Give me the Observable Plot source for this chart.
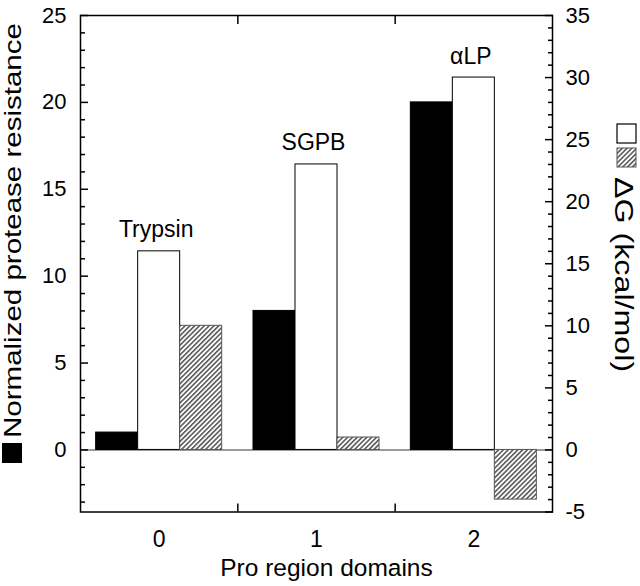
<!DOCTYPE html>
<html><head><meta charset="utf-8">
<script src="https://cdn.jsdelivr.net/npm/d3@7"></script>
<script src="https://cdn.jsdelivr.net/npm/@observablehq/plot@0.6"></script>
<style>
body{margin:0;background:#fff;}
#chart svg{display:block;}
</style>
</head><body><div id="chart"></div>
<script>
// ---- data ----
const groups = ["0", "1", "2"];
const enzymes = ["Trypsin", "SGPB", "αLP"];
const resistance = [1, 8, 20];      // normalized protease resistance (left axis, black)
const dGopen = [16, 23, 30];        // ΔG kcal/mol (right axis, open bars)
const dGhatched = [10, 1, -4];      // ΔG kcal/mol (right axis, hatched bars)
const leftTicks = [0, 5, 10, 15, 20, 25];
const rightTicks = [-5, 0, 5, 10, 15, 20, 25, 30, 35];
const rightDomain = [-5, 35];
const leftMax = 25;

// ---- derived ----
const k = leftMax / rightDomain[1];               // right-axis units -> left-axis units
const leftDomain = [rightDomain[0] * k, leftMax];
const leftMinor = d3.range(Math.ceil(leftDomain[0]), leftMax).filter(v => v % 5 !== 0);
const rightMinor = d3.range(rightDomain[0], rightDomain[1]).filter(v => v % 5 !== 0);
const bw = 0.267;
const series = [
  {values: resistance, s: 1},
  {values: dGopen, s: k},
  {values: dGhatched, s: k}
];
const rows = [];
groups.forEach((g, gi) => series.forEach((ser, si) =>
  rows.push({gi, si, y: ser.values[gi] * ser.s})));
const bar = si => ({
  filter: d => d.si === si,
  x1: d => d.gi + (d.si - 1.5) * bw,
  x2: d => d.gi + (d.si - 0.5) * bw,
  y1: 0, y2: "y"
});

const font = "'Liberation Sans', Arial, Helvetica, sans-serif";

const plot = Plot.plot({
  width: 640, height: 586,
  marginLeft: 80, marginRight: 88, marginTop: 15, marginBottom: 74.5,
  style: {fontFamily: font, fontSize: "22px", color: "black", background: "white", overflow: "visible"},
  x: {domain: [-0.5, 2.5]},
  y: {domain: leftDomain},
  marks: [
    Plot.ruleY([0], {stroke: "#7a7a7a", strokeWidth: 1.5}),
    Plot.rectY(rows, {...bar(0), fill: "black", stroke: "black"}),
    Plot.rectY(rows, {...bar(1), fill: "white", stroke: "black", strokeWidth: 1}),
    Plot.rectY(rows, {...bar(2), fill: "url(#hatch)", stroke: "#555", strokeWidth: 1}),
    Plot.text(groups.map((g, i) => i), {
      x: i => i, y: i => dGopen[i] * k, text: i => enzymes[i],
      dy: -14, dx: -3, lineAnchor: "bottom", fontSize: 23
    }),
    Plot.axisY(leftTicks, {anchor: "left", tickSize: -8, tickPadding: 22, label: null, strokeWidth: 1.5}),
    Plot.axisY(leftMinor, {anchor: "left", tickSize: -5, tickFormat: () => "", label: null, strokeWidth: 1.5}),
    Plot.axisY(rightTicks.map(v => v * k), {
      anchor: "right", tickSize: -8, tickPadding: 21, label: null, strokeWidth: 1.5,
      tickFormat: v => String(Math.round(v / k))
    }),
    Plot.axisY(rightMinor.map(v => v * k), {anchor: "right", tickSize: -5, tickFormat: () => "", label: null, strokeWidth: 1.5}),
    Plot.axisX(groups.map((g, i) => i), {anchor: "bottom", tickSize: 0, tickPadding: 19, tickFormat: i => groups[i], label: null, fontSize: 23}),
    Plot.axisX([0.5, 1.5], {anchor: "bottom", tickSize: -8, tickFormat: () => "", label: null, strokeWidth: 1.5}),
    Plot.axisX([0.5, 1.5], {anchor: "top", tickSize: -8, tickFormat: () => "", label: null, strokeWidth: 1.5}),
    Plot.frame({stroke: "black", strokeWidth: 1.5}),
    Plot.text(["Pro region domains"], {frameAnchor: "bottom", dy: 64, dx: 10, lineAnchor: "bottom", fontSize: 24.5})
  ]
});

const svg = d3.select(plot);
svg.insert("defs", ":first-child").html(
  `<pattern id="hatch" patternUnits="userSpaceOnUse" width="3.4" height="3.4" patternTransform="rotate(45)">
     <rect width="3.4" height="3.4" fill="white"/>
     <line x1="0.8" y1="0" x2="0.8" y2="3.4" stroke="#333" stroke-width="1.3"/>
   </pattern>`);

// left title with legend swatch
const gl = svg.append("g").attr("font-family", font).attr("fill", "black").attr("text-anchor", "start");
gl.append("rect").attr("x", 2).attr("y", 443).attr("width", 20).attr("height", 20).attr("fill", "black");
gl.append("text").attr("transform", "translate(21,438) rotate(-90) scale(1.23,1)")
  .attr("text-anchor", "start").attr("font-size", 24).text("Normalized protease resistance");

// right title with legend swatches
const gr = svg.append("g").attr("font-family", font).attr("fill", "black").attr("text-anchor", "start");
gr.append("rect").attr("x", 617).attr("y", 124).attr("width", 19).attr("height", 19)
  .attr("fill", "white").attr("stroke", "black").attr("stroke-width", 1.2);
gr.append("rect").attr("x", 617).attr("y", 148).attr("width", 19).attr("height", 19)
  .attr("fill", "url(#hatch)").attr("stroke", "#555").attr("stroke-width", 1);
gr.append("text").attr("transform", "translate(615,177) rotate(90) scale(1.24,1)")
  .attr("text-anchor", "start").attr("font-size", 26).text("ΔG (kcal/mol)");

document.getElementById("chart").appendChild(plot);
</script>
</body></html>
